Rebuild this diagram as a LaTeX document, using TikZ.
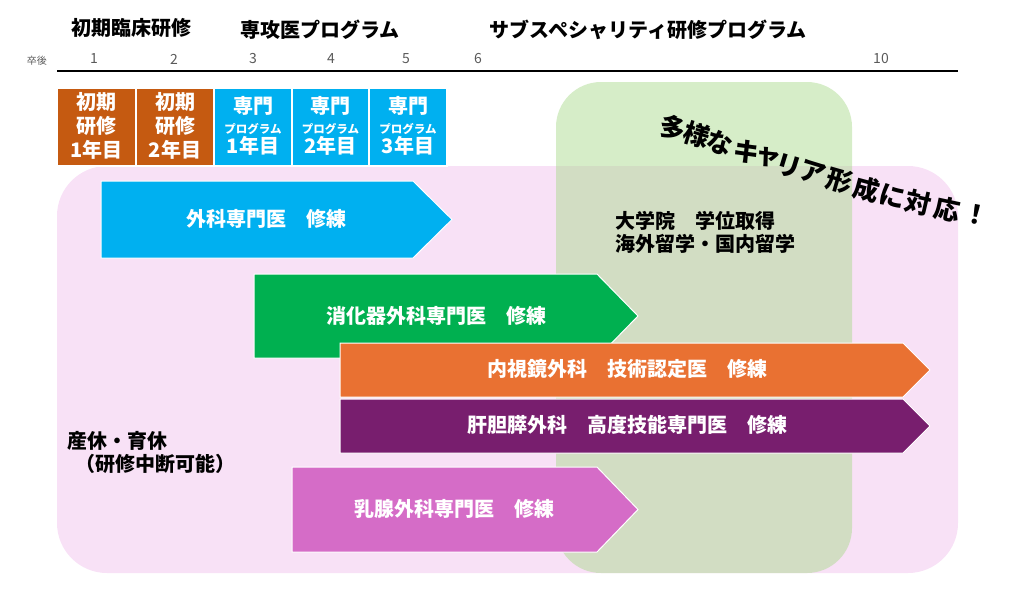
\documentclass[tikz,border=0pt]{standalone}
\usepackage{fontspec}
\setmainfont{Noto Sans CJK JP}
\definecolor{brownbox}{HTML}{C55A11}
\definecolor{bluebox}{HTML}{00B0F0}
\definecolor{greenarr}{HTML}{00B050}
\definecolor{orangearr}{HTML}{E97132}
\definecolor{purplearr}{HTML}{781E6E}
\definecolor{magentaarr}{HTML}{D56CC7}
\definecolor{pinkbg}{HTML}{F8E1F6}
\definecolor{greenbg}{RGB}{173,219,145}
\definecolor{numgray}{RGB}{90,90,90}
\tikzset{
  header/.style={font=\fontsize{20}{22}\selectfont\bfseries, text=black},
  yearnum/.style={font=\fontsize{14}{15}\selectfont, text=numgray},
  topbox/.style={draw=white, line width=1.2pt, fill=#1},
  boxtext/.style={text=white, align=center, font=\fontsize{20}{24}\selectfont\bfseries},
  arrowbody/.style={fill=#1, draw=white, line width=1pt},
  arrowtext/.style={text=white, font=\fontsize{20}{22}\selectfont\bfseries},
  plaintext/.style={text=black, align=left, font=\fontsize{20}{23}\selectfont\bfseries},
  careerchar/.style={font=\fontsize{26}{26}\selectfont\bfseries, text=black, inner sep=0pt},
}
\begin{document}
\begin{tikzpicture}[x=1pt,y=-1pt]
\useasboundingbox (0,0) rectangle (1024,595);
% headers
\node[header] (h1) at (131,28) {初期臨床研修};
\node[header] (h2) at (320,30) {専攻医プログラム};
\node[header] (h3) at (648,30) {サブスペシャリティ研修プログラム};
% axis
\node[font=\fontsize{10}{11}\selectfont, text=numgray] (sotsugo) at (37,61) {卒後};
\coordinate (axL) at (57,71);
\coordinate (axR) at (958,71);
\draw[line width=2.6pt] (axL) -- (axR);
\node[yearnum] (y1) at (94,59) {1};
\node[yearnum] (y2) at (174,59) {2};
\node[yearnum] (y3) at (253,59) {3};
\node[yearnum] (y4) at (331,59) {4};
\node[yearnum] (y5) at (406,59) {5};
\node[yearnum] (y6) at (478,59) {6};
\node[yearnum] (y10) at (881,59) {10};
% background regions
\fill[pinkbg, rounded corners=50pt] (57,166) rectangle (958,573);
\fill[greenbg, fill opacity=0.5, rounded corners=45pt] (556,82) rectangle (852,573);
% top boxes
\filldraw[topbox=brownbox] (57,88) rectangle (136,166);
\filldraw[topbox=brownbox] (136,88) rectangle (214,166);
\filldraw[topbox=bluebox] (214,88) rectangle (292,166);
\filldraw[topbox=bluebox] (292,88) rectangle (369,166);
\filldraw[topbox=bluebox] (369,88) rectangle (447,166);
\node[boxtext] (b1) at (96.5,126) {初期\\研修\\1年目};
\node[boxtext] (b2) at (175,126) {初期\\研修\\2年目};
\node[boxtext] (b3) at (253,126) {専門\\[-4pt]{\fontsize{11.5}{12}\selectfont プログラム}\\[-4pt]1年目};
\node[boxtext] (b4) at (330.5,126) {専門\\[-4pt]{\fontsize{11.5}{12}\selectfont プログラム}\\[-4pt]2年目};
\node[boxtext] (b5) at (408,126) {専門\\[-4pt]{\fontsize{11.5}{12}\selectfont プログラム}\\[-4pt]3年目};
% arrows
\filldraw[arrowbody=bluebox] (101,181) -- (413,181) -- (452,219.5) -- (413,258) -- (101,258) -- cycle;
\node[arrowtext] (a1) at (266,219) {外科専門医　修練};
\filldraw[arrowbody=greenarr] (254,274) -- (597,274) -- (638,316) -- (597,358) -- (254,358) -- cycle;
\node[arrowtext] (a2) at (436,316) {消化器外科専門医　修練};
\filldraw[arrowbody=orangearr] (340,343) -- (903,343) -- (930,370) -- (903,397) -- (340,397) -- cycle;
\node[arrowtext] (a3) at (627,369) {内視鏡外科　技術認定医　修練};
\filldraw[arrowbody=purplearr] (340,399) -- (903,399) -- (930,426) -- (903,453) -- (340,453) -- cycle;
\node[arrowtext] (a4) at (627,425) {肝胆膵外科　高度技能専門医　修練};
\filldraw[arrowbody=magentaarr] (292,467) -- (597,467) -- (638,509.5) -- (597,552) -- (292,552) -- cycle;
\node[arrowtext] (a5) at (454,509) {乳腺外科専門医　修練};
% texts
\node[plaintext, anchor=west] (grad) at (612,232) {大学院　学位取得\\海外留学・国内留学};
\node[plaintext, anchor=west] (leave) at (64,452) {産休・育休\\\hspace*{0.4em}（研修中断可能）};
% curved slogan, one character at a time
\foreach \ch/\cx/\cy/\ang [count=\i] in {多/673/128/-17, 様/697/135/-17, な/720/143/-17, キ/747/152/-17, ャ/768/158/-17, リ/789/166/-17, ア/813/173/-17, 形/840/181/-16, 成/867/189/-15, に/892/196/-14, 対/918/203/-13, 応/947/209/-12, ！/976/215/-11}
  \node[careerchar, rotate=\ang] (c\i) at (\cx,\cy) {\ch};
\end{tikzpicture}
\end{document}
